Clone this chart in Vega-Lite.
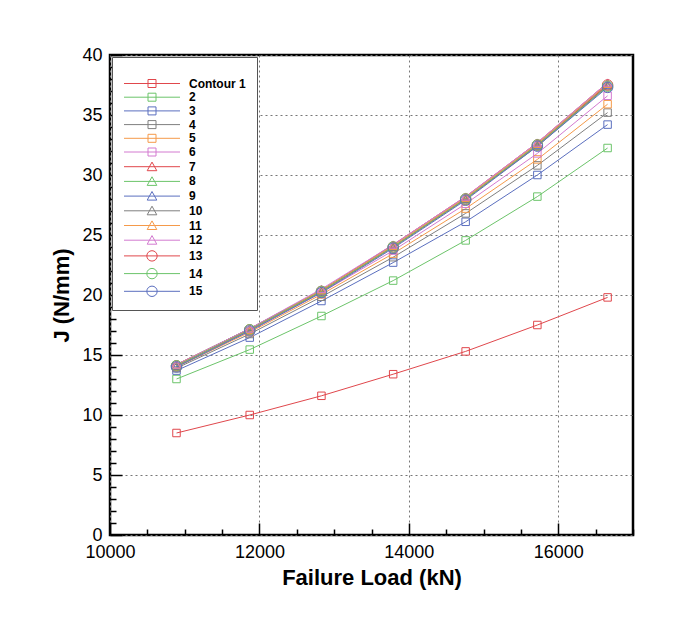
{
  "$schema": "https://vega.github.io/schema/vega-lite/v6.json",
  "width": 523,
  "height": 480,
  "autosize": "none",
  "padding": {"left": 110, "top": 55, "right": 67, "bottom": 90},
  "background": "white",
  "config": {
    "font": "Liberation Sans",
    "view": {"stroke": "#000000", "strokeWidth": 2.5},
    "axis": {"labelFont": "Liberation Sans", "titleFont": "Liberation Sans", "labelColor": "#000", "titleColor": "#000"}
  },
  "data": {"values": [
    {"c": "Contour 1", "x": 10890, "j": 8.5}, {"c": "Contour 1", "x": 11870, "j": 10.0}, {"c": "Contour 1", "x": 12830, "j": 11.6}, {"c": "Contour 1", "x": 13790, "j": 13.4}, {"c": "Contour 1", "x": 14760, "j": 15.3}, {"c": "Contour 1", "x": 15720, "j": 17.5}, {"c": "Contour 1", "x": 16660, "j": 19.8},
    {"c": "2", "x": 10890, "j": 13.0}, {"c": "2", "x": 11870, "j": 15.45}, {"c": "2", "x": 12830, "j": 18.25}, {"c": "2", "x": 13790, "j": 21.2}, {"c": "2", "x": 14760, "j": 24.55}, {"c": "2", "x": 15720, "j": 28.2}, {"c": "2", "x": 16660, "j": 32.25},
    {"c": "3", "x": 10890, "j": 13.7}, {"c": "3", "x": 11870, "j": 16.45}, {"c": "3", "x": 12830, "j": 19.5}, {"c": "3", "x": 13790, "j": 22.7}, {"c": "3", "x": 14760, "j": 26.1}, {"c": "3", "x": 15720, "j": 30.0}, {"c": "3", "x": 16660, "j": 34.2},
    {"c": "4", "x": 10890, "j": 13.9}, {"c": "4", "x": 11870, "j": 16.75}, {"c": "4", "x": 12830, "j": 19.85}, {"c": "4", "x": 13790, "j": 23.15}, {"c": "4", "x": 14760, "j": 26.8}, {"c": "4", "x": 15720, "j": 30.8}, {"c": "4", "x": 16660, "j": 35.2},
    {"c": "5", "x": 10890, "j": 14.0}, {"c": "5", "x": 11870, "j": 16.9}, {"c": "5", "x": 12830, "j": 20.05}, {"c": "5", "x": 13790, "j": 23.45}, {"c": "5", "x": 14760, "j": 27.2}, {"c": "5", "x": 15720, "j": 31.3}, {"c": "5", "x": 16660, "j": 35.9},
    {"c": "6", "x": 10890, "j": 14.1}, {"c": "6", "x": 11870, "j": 17.0}, {"c": "6", "x": 12830, "j": 20.2}, {"c": "6", "x": 13790, "j": 23.7}, {"c": "6", "x": 14760, "j": 27.6}, {"c": "6", "x": 15720, "j": 31.8}, {"c": "6", "x": 16660, "j": 36.6},
    {"c": "7", "x": 10890, "j": 14.2}, {"c": "7", "x": 11870, "j": 17.2}, {"c": "7", "x": 12830, "j": 20.4}, {"c": "7", "x": 13790, "j": 24.2}, {"c": "7", "x": 14760, "j": 28.2}, {"c": "7", "x": 15720, "j": 32.7}, {"c": "7", "x": 16660, "j": 37.7},
    {"c": "8", "x": 10890, "j": 14.2}, {"c": "8", "x": 11870, "j": 17.2}, {"c": "8", "x": 12830, "j": 20.4}, {"c": "8", "x": 13790, "j": 24.1}, {"c": "8", "x": 14760, "j": 28.1}, {"c": "8", "x": 15720, "j": 32.6}, {"c": "8", "x": 16660, "j": 37.6},
    {"c": "9", "x": 10890, "j": 14.1}, {"c": "9", "x": 11870, "j": 17.1}, {"c": "9", "x": 12830, "j": 20.3}, {"c": "9", "x": 13790, "j": 24.0}, {"c": "9", "x": 14760, "j": 28.0}, {"c": "9", "x": 15720, "j": 32.5}, {"c": "9", "x": 16660, "j": 37.5},
    {"c": "10", "x": 10890, "j": 14.1}, {"c": "10", "x": 11870, "j": 17.1}, {"c": "10", "x": 12830, "j": 20.3}, {"c": "10", "x": 13790, "j": 24.0}, {"c": "10", "x": 14760, "j": 28.0}, {"c": "10", "x": 15720, "j": 32.4}, {"c": "10", "x": 16660, "j": 37.4},
    {"c": "11", "x": 10890, "j": 14.2}, {"c": "11", "x": 11870, "j": 17.1}, {"c": "11", "x": 12830, "j": 20.4}, {"c": "11", "x": 13790, "j": 24.1}, {"c": "11", "x": 14760, "j": 28.1}, {"c": "11", "x": 15720, "j": 32.6}, {"c": "11", "x": 16660, "j": 37.6},
    {"c": "12", "x": 10890, "j": 14.2}, {"c": "12", "x": 11870, "j": 17.2}, {"c": "12", "x": 12830, "j": 20.5}, {"c": "12", "x": 13790, "j": 24.2}, {"c": "12", "x": 14760, "j": 28.2}, {"c": "12", "x": 15720, "j": 32.7}, {"c": "12", "x": 16660, "j": 37.7},
    {"c": "13", "x": 10890, "j": 14.1}, {"c": "13", "x": 11870, "j": 17.1}, {"c": "13", "x": 12830, "j": 20.3}, {"c": "13", "x": 13790, "j": 24.0}, {"c": "13", "x": 14760, "j": 28.0}, {"c": "13", "x": 15720, "j": 32.5}, {"c": "13", "x": 16660, "j": 37.5},
    {"c": "14", "x": 10890, "j": 14.1}, {"c": "14", "x": 11870, "j": 17.1}, {"c": "14", "x": 12830, "j": 20.3}, {"c": "14", "x": 13790, "j": 24.0}, {"c": "14", "x": 14760, "j": 28.0}, {"c": "14", "x": 15720, "j": 32.5}, {"c": "14", "x": 16660, "j": 37.4},
    {"c": "15", "x": 10890, "j": 14.0}, {"c": "15", "x": 11870, "j": 17.0}, {"c": "15", "x": 12830, "j": 20.2}, {"c": "15", "x": 13790, "j": 23.9}, {"c": "15", "x": 14760, "j": 27.9}, {"c": "15", "x": 15720, "j": 32.4}, {"c": "15", "x": 16660, "j": 37.3}
  ]},
  "encoding": {
    "x": {
      "field": "x", "type": "quantitative",
      "scale": {"domain": [10000, 17000], "nice": false, "zero": false},
      "axis": {
        "title": "Failure Load (kN)", "titleFontSize": 22, "titleFontWeight": "bold", "titlePadding": 0,
        "values": [10000, 10500, 11000, 11500, 12000, 12500, 13000, 13500, 14000, 14500, 15000, 15500, 16000, 16500, 17000],
        "format": "d",
        "labelExpr": "datum.value % 2000 == 0 ? datum.label : ''",
        "labelFontSize": 18, "labelPadding": 20, "labelFlush": false, "labelOverlap": false,
        "tickSize": {"condition": {"test": "datum.value % 2000 == 0", "value": -12}, "value": -6},
        "tickColor": "#000", "tickWidth": 1.5,
        "domain": false,
        "grid": true, "gridColor": "#777", "gridDash": [2, 3], "gridWidth": 1,
        "gridOpacity": {"condition": {"test": "datum.value % 2000 == 0", "value": 1}, "value": 0}
      }
    },
    "y": {
      "field": "j", "type": "quantitative",
      "scale": {"domain": [0, 40], "nice": false},
      "axis": {
        "title": "J (N/mm)", "titleFontSize": 22, "titleFontWeight": "bold", "titlePadding": 8,
        "values": [0,1,2,3,4,5,6,7,8,9,10,11,12,13,14,15,16,17,18,19,20,21,22,23,24,25,26,27,28,29,30,31,32,33,34,35,36,37,38,39,40],
        "labelExpr": "datum.value % 5 == 0 ? datum.label : ''",
        "labelFontSize": 18, "labelPadding": 20, "labelFlush": false, "labelOverlap": false,
        "tickSize": {"condition": {"test": "datum.value % 5 == 0", "value": -12}, "value": -6},
        "tickColor": "#000", "tickWidth": 1.5,
        "domain": false,
        "grid": true, "gridColor": "#777", "gridDash": [2, 3], "gridWidth": 1,
        "gridOpacity": {"condition": {"test": "datum.value % 5 == 0", "value": 1}, "value": 0}
      }
    },
    "color": {
      "field": "c", "type": "nominal",
      "scale": {
        "domain": ["Contour 1","2","3","4","5","6","7","8","9","10","11","12","13","14","15"],
        "range": ["#e0474c","#6cc46a","#5b6fbf","#7f7f7f","#f59a4a","#d37ad0","#e0474c","#6cc46a","#5b6fbf","#7f7f7f","#f59a4a","#d37ad0","#e0474c","#6cc46a","#5b6fbf"]
      },
      "legend": {
        "orient": "none", "legendX": 2, "legendY": 2,
        "title": " ", "titleFontSize": 6, "titlePadding": 3.5,
        "padding": 11, "rowPadding": 1.7,
        "fillColor": "white", "strokeColor": "#555",
        "labelFont": "Liberation Sans", "labelFontSize": 12, "labelFontWeight": "bold", "labelColor": "#000",
        "symbolSize": 64, "symbolOffset": 23, "labelOffset": 31,
        "encode": {"symbols": {"update": {
          "fill": {"value": "transparent"},
          "strokeWidth": {"value": 1},
          "size": {"value": 64},
          "shape": {"signal": "datum.value == 'Contour 1' || toNumber(datum.value) <= 6 ? 'M-7,0H7M-1,-1H1V1H-1Z' : toNumber(datum.value) <= 12 ? 'M-7,0H7M0,-1.15L1.2,1H-1.2Z' : 'M-7,0H7M-1.3,0A1.3,1.3,0,1,0,1.3,0A1.3,1.3,0,1,0,-1.3,0Z'"}
        }}}
      }
    }
  },
  "layer": [
    {"mark": {"type": "line", "strokeWidth": 1}},
    {
      "mark": {"type": "point", "filled": false, "strokeWidth": 1, "opacity": 1},
      "encoding": {
        "shape": {
          "condition": [
            {"test": "datum.c == 'Contour 1' || toNumber(datum.c) <= 6", "value": "square"},
            {"test": "toNumber(datum.c) <= 12", "value": "triangle-up"}
          ],
          "value": "circle"
        },
        "size": {
          "condition": [
            {"test": "datum.c == 'Contour 1' || toNumber(datum.c) <= 6", "value": 56},
            {"test": "toNumber(datum.c) <= 12", "value": 70}
          ],
          "value": 110
        }
      }
    }
  ]
}
